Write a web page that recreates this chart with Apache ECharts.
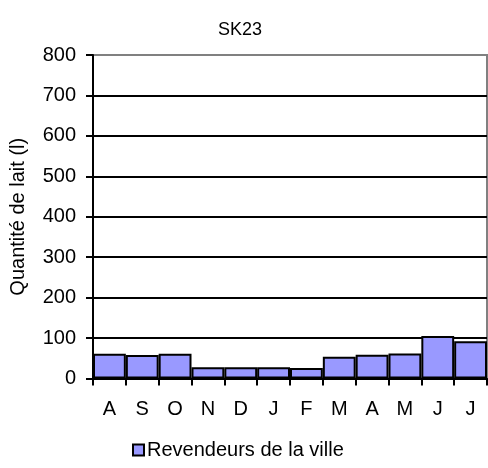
<!DOCTYPE html>
<html>
<head>
<meta charset="utf-8">
<script src="https://cdn.jsdelivr.net/npm/echarts@6/dist/echarts.min.js"></script>
<style>
  html, body { margin: 0; padding: 0; background: #ffffff; }
  #chart { width: 488px; height: 468px; }
</style>
</head>
<body>
<div id="chart"></div>
<script>
// Monthly milk quantity sold to town resellers, August to July
const months = ['A', 'S', 'O', 'N', 'D', 'J', 'F', 'M', 'A', 'M', 'J', 'J'];
const resellers = [61, 58, 61, 28, 28, 28, 26, 54, 59, 62, 105, 92];
const yTicks = { min: 0, max: 800, step: 100 };

const font = 'Liberation Sans, Arial, sans-serif';
const chart = echarts.init(document.getElementById('chart'));

chart.setOption({
  animation: false,
  backgroundColor: '#ffffff',
  title: {
    text: 'SK23',
    left: 240,
    top: 21,
    padding: 0,
    textAlign: 'center',
    textStyle: { fontFamily: font, fontSize: 18, fontWeight: 'normal', color: '#000' }
  },
  grid: {
    left: 93, right: 1, top: 55, bottom: 89.5,
    show: true,
    backgroundColor: '#ffffff',
    borderColor: '#808080',
    borderWidth: 2
  },
  legend: {
    left: 132,
    top: 440,
    padding: 0,
    itemWidth: 11,
    itemHeight: 11,
    itemGap: 4,
    icon: 'rect',
    textStyle: { fontFamily: font, fontSize: 20, color: '#000', padding: [0, 0, 0, -2] },
    data: ['Revendeurs de la ville']
  },
  xAxis: {
    type: 'category',
    data: months,
    boundaryGap: true,
    axisLine: { lineStyle: { color: '#000', width: 2 } },
    axisTick: { show: true, length: 7, alignWithLabel: false, lineStyle: { color: '#000', width: 2 } },
    axisLabel: { margin: 21, fontFamily: font, fontSize: 20, color: '#000' },
    splitLine: { show: false }
  },
  yAxis: {
    type: 'value',
    min: yTicks.min,
    max: yTicks.max,
    interval: yTicks.step,
    name: 'Quantité de lait (l)',
    nameLocation: 'middle',
    nameGap: 65,
    nameTextStyle: { fontFamily: font, fontSize: 20, color: '#000' },
    axisLine: { show: true, lineStyle: { color: '#000', width: 2 } },
    axisTick: { show: true, length: 7, lineStyle: { color: '#000', width: 2 } },
    axisLabel: { margin: 17, fontFamily: font, fontSize: 20, color: '#000' },
    splitLine: { show: true, showMaxLine: false, lineStyle: { color: '#000', width: 2 } }
  },
  series: [{
    name: 'Revendeurs de la ville',
    type: 'bar',
    data: resellers,
    barCategoryGap: '0%',
    itemStyle: { color: '#9999FF', borderColor: '#000', borderWidth: 2 }
  }]
});
</script>
</body>
</html>
